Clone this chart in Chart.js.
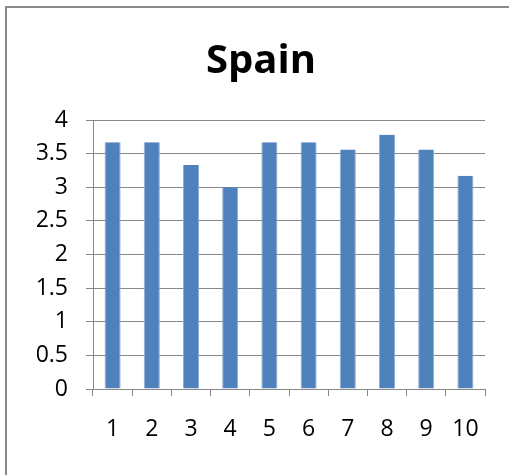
<!DOCTYPE html>
<html>
<head>
<meta charset="utf-8">
<script src="https://cdn.jsdelivr.net/npm/chart.js@4"></script>
<style>
  html, body { margin: 0; padding: 0; background: #fff; overflow: hidden; }
  .frame {
    position: absolute;
    left: 5px;
    top: 6px;
    border-left: 2px solid #8a8a8a;
    border-top: 2px solid #8a8a8a;
    width: 502px;
    height: 467px;
  }
</style>
</head>
<body>
<div class="frame"><canvas id="spainChart" width="502" height="467"></canvas></div>
<script>
const categories = ['1', '2', '3', '4', '5', '6', '7', '8', '9', '10'];
const scores = [3.67, 3.67, 3.33, 3.0, 3.67, 3.67, 3.56, 3.78, 3.56, 3.17];
const chartTitle = 'Spain';
const FONT = "'Open Sans', 'Noto Sans', sans-serif";
const GRID_GREY = '#878787';

const ctx = document.getElementById('spainChart').getContext('2d');

new Chart(ctx, {
  type: 'bar',
  data: {
    labels: categories,
    datasets: [{
      label: chartTitle,
      data: scores,
      backgroundColor: '#4F81BD',
      borderColor: '#8eacd4',
      borderWidth: { left: 1, right: 1, top: 0, bottom: 0 },
      categoryPercentage: 1,
      barPercentage: 0.41,
    }],
  },
  options: {
    responsive: false,
    animation: false,
    // left padding pushes the title centre to the right like the original
    layout: { padding: { top: 0, right: 24, bottom: 0, left: 30 } },
    plugins: {
      legend: { display: false },
      tooltip: { enabled: false },
      title: {
        display: true,
        text: chartTitle,
        color: '#000',
        font: { family: FONT, size: 40, weight: 'bold', lineHeight: 1.2 },
        padding: { top: 30, bottom: 34 },
      },
    },
    scales: {
      x: {
        grid: {
          offset: true,
          drawOnChartArea: false,
          color: GRID_GREY,
          tickLength: 7,
        },
        border: { color: GRID_GREY, width: 1 },
        ticks: {
          color: '#000',
          font: { family: FONT, size: 23 },
          padding: 20,
          maxRotation: 0,
        },
        afterFit: (scale) => { scale.height = 86; },
      },
      y: {
        min: 0,
        max: 4,
        grid: { color: GRID_GREY, tickLength: 7 },
        border: { color: GRID_GREY, width: 1 },
        ticks: {
          stepSize: 0.5,
          color: '#000',
          font: { family: FONT, size: 23 },
          padding: 18,
          callback: (value) => String(value),
        },
        afterFit: (scale) => { scale.width = 56; },
      },
    },
  },
});
</script>
</body>
</html>
